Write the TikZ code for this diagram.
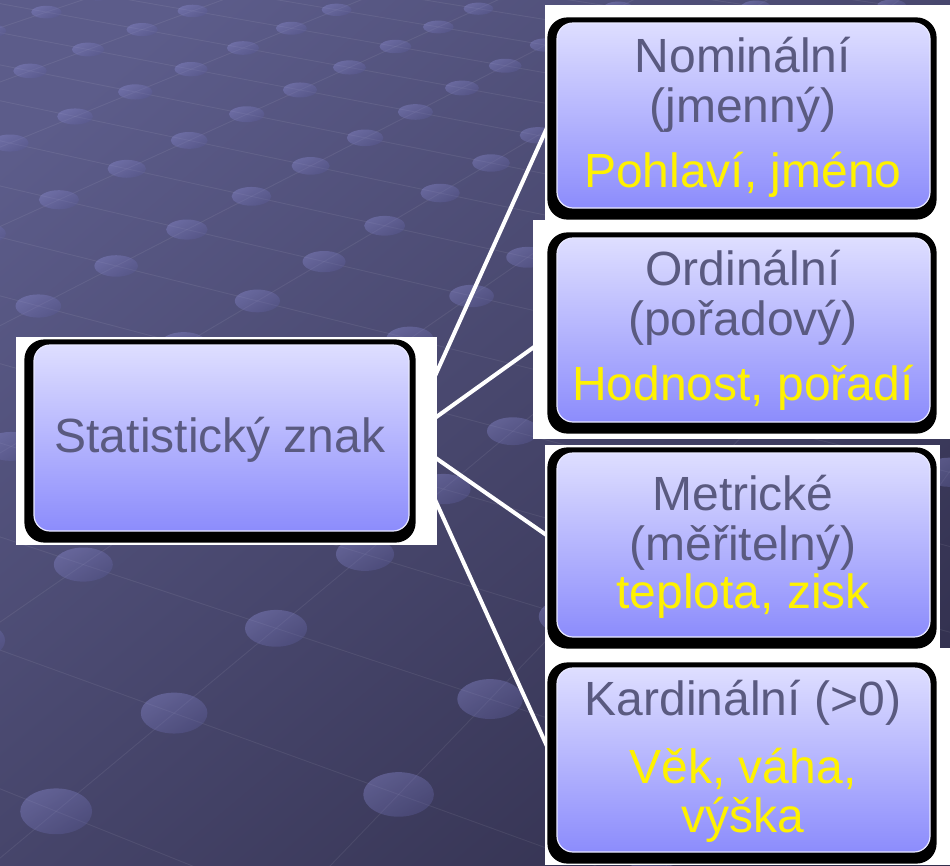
\documentclass[tikz,border=0pt]{standalone}
\usepackage{fontspec}
\setmainfont{Liberation Sans}
\pgfdeclarelayer{back}
\pgfsetlayers{back,main}
\definecolor{txtgrey}{RGB}{90,90,128}
\definecolor{bgtl}{RGB}{92,92,138}
\definecolor{bgbr}{RGB}{50,48,78}
\definecolor{lavtop}{RGB}{222,222,255}
\definecolor{lavbot}{RGB}{140,140,252}
\definecolor{lavedge}{RGB}{232,232,255}
\definecolor{dotlt}{RGB}{140,140,210}
\definecolor{dotdk}{RGB}{90,90,150}
\tikzset{
  box/.style={rounded corners=16pt, top color=lavtop, bottom color=lavbot,
    draw=lavedge, line width=1.2pt, inner sep=0pt},
  lbl/.style={anchor=base, text=txtgrey, font=\fontsize{48}{50}\selectfont, inner sep=0pt},
  ex/.style={lbl, text=yellow},
  conn/.style={white, line width=4pt},
  whitebg/.style={fill=white},
  shadowbox/.style={fill=black, rounded corners=20pt},
  gridline/.style={white, opacity=0.07, line width=0.9pt},
  gdot/.style={top color=dotlt, bottom color=dotdk, shading angle=30, opacity=0.4},
}
\begin{document}
\begin{tikzpicture}[x=1pt,y=-1pt]
\useasboundingbox (0,0) rectangle (950,865);
% boxes
\node[box, minimum width=375pt, minimum height=186pt] (c) at (221.5,438) {};
\node[box, minimum width=373pt, minimum height=185pt] (b1) at (743.5,115.5) {};
\node[box, minimum width=373pt, minimum height=184pt] (b2) at (743.5,330) {};
\node[box, minimum width=373pt, minimum height=184pt] (b3) at (743.5,545) {};
\node[box, minimum width=373pt, minimum height=184pt] (b4) at (743.5,760) {};
% texts
\node[lbl] (ct) at (220,452) {Statistický znak};
\node[lbl] (t1a) at (743,72) {Nominální};
\node[lbl] (t1b) at (743,122) {(jmenný)};
\node[ex]  (t1c) at (743,187) {Pohlaví, jméno};
\node[lbl] (t2a) at (743,285) {Ordinální};
\node[lbl] (t2b) at (743,335) {(pořadový)};
\node[ex]  (t2c) at (743,400) {Hodnost, pořadí};
\node[lbl] (t3a) at (743,510) {Metrické};
\node[lbl] (t3b) at (743,560) {(měřitelný)};
\node[ex]  (t3c) at (743,608) {teplota, zisk};
\node[lbl] (t4a) at (743,715) {Kardinální (>0)};
\node[ex]  (t4b) at (743,783) {Věk, váha,};
\node[ex]  (t4c) at (743,832) {výška};
\coordinate (hub) at (407,438);
\begin{pgfonlayer}{back}
  % background
  \shade[shading=axis, top color=bgtl, bottom color=bgbr, shading angle=40]
    (-60,-60) rectangle (1010,925);
  \begin{scope}
    \clip (0,0) rectangle (950,865);
    % perspective grid: X=(97.04u-58.6v+243)/D, Y=(17.63u+18.75v+48)/D, D=1-0.02696u-0.035v
    \foreach \u in {-5,...,13}{
      \pgfmathsetmacro{\Da}{1-0.02696*(\u)+0.035*8}
      \pgfmathsetmacro{\xa}{(97.04*(\u)+58.6*8+243)/\Da}
      \pgfmathsetmacro{\ya}{(17.63*(\u)-18.75*8+48)/\Da}
      \pgfmathsetmacro{\Db}{1-0.02696*(\u)-0.035*14}
      \pgfmathsetmacro{\xb}{(97.04*(\u)-58.6*14+243)/\Db}
      \pgfmathsetmacro{\yb}{(17.63*(\u)+18.75*14+48)/\Db}
      \draw[gridline] (\xa,\ya) -- (\xb,\yb);
    }
    \foreach \v in {-8,...,14}{
      \pgfmathsetmacro{\Da}{1+0.02696*5-0.035*(\v)}
      \pgfmathsetmacro{\xa}{(-97.04*5-58.6*(\v)+243)/\Da}
      \pgfmathsetmacro{\ya}{(-17.63*5+18.75*(\v)+48)/\Da}
      \pgfmathsetmacro{\Db}{1-0.02696*13-0.035*(\v)}
      \pgfmathsetmacro{\xb}{(97.04*13-58.6*(\v)+243)/\Db}
      \pgfmathsetmacro{\yb}{(17.63*13+18.75*(\v)+48)/\Db}
      \draw[gridline] (\xa,\ya) -- (\xb,\yb);
    }
    \foreach \u in {-5,...,13}{
      \foreach \v in {-8,...,14}{
        \pgfmathsetmacro{\D}{1-0.02696*(\u)-0.035*(\v)}
        \pgfmathsetmacro{\xx}{(97.04*(\u)-58.6*(\v)+243)/\D}
        \pgfmathsetmacro{\yy}{(17.63*(\u)+18.75*(\v)+48)/\D}
        \pgfmathsetmacro{\rx}{16/\D}
        \pgfmathsetmacro{\ry}{6.8/(\D*sqrt(\D))}
        \shade[gdot] (\xx,\yy) ellipse [x radius=\rx pt, y radius=\ry pt];
      }
    }
  \end{scope}
  % connectors
  \draw[conn] (hub) -- ([yshift=8.5pt]b1.west);
  \draw[conn] (hub) -- ([yshift=-1pt]b2.west);
  \draw[conn] (hub) -- ([yshift=3pt]b3.west);
  \draw[conn] (hub) -- ([yshift=-7pt]b4.west);
  % white backgrounds
  \fill[whitebg] (16,337) rectangle (437,545);
  \fill[whitebg] (545,5) rectangle (950,220);
  \fill[whitebg] (533,220) rectangle (950,439);
  \fill[whitebg] (545,445) rectangle (940,648);
  \fill[whitebg] (545,648) rectangle (950,865);
  % black shadows
  \foreach \b in {c,b1,b2,b3,b4}{
    \fill[shadowbox] ([xshift=-9pt,yshift=5pt]\b.north west) rectangle ([xshift=6pt,yshift=-11pt]\b.south east);
  }
\end{pgfonlayer}
\end{tikzpicture}
\end{document}
